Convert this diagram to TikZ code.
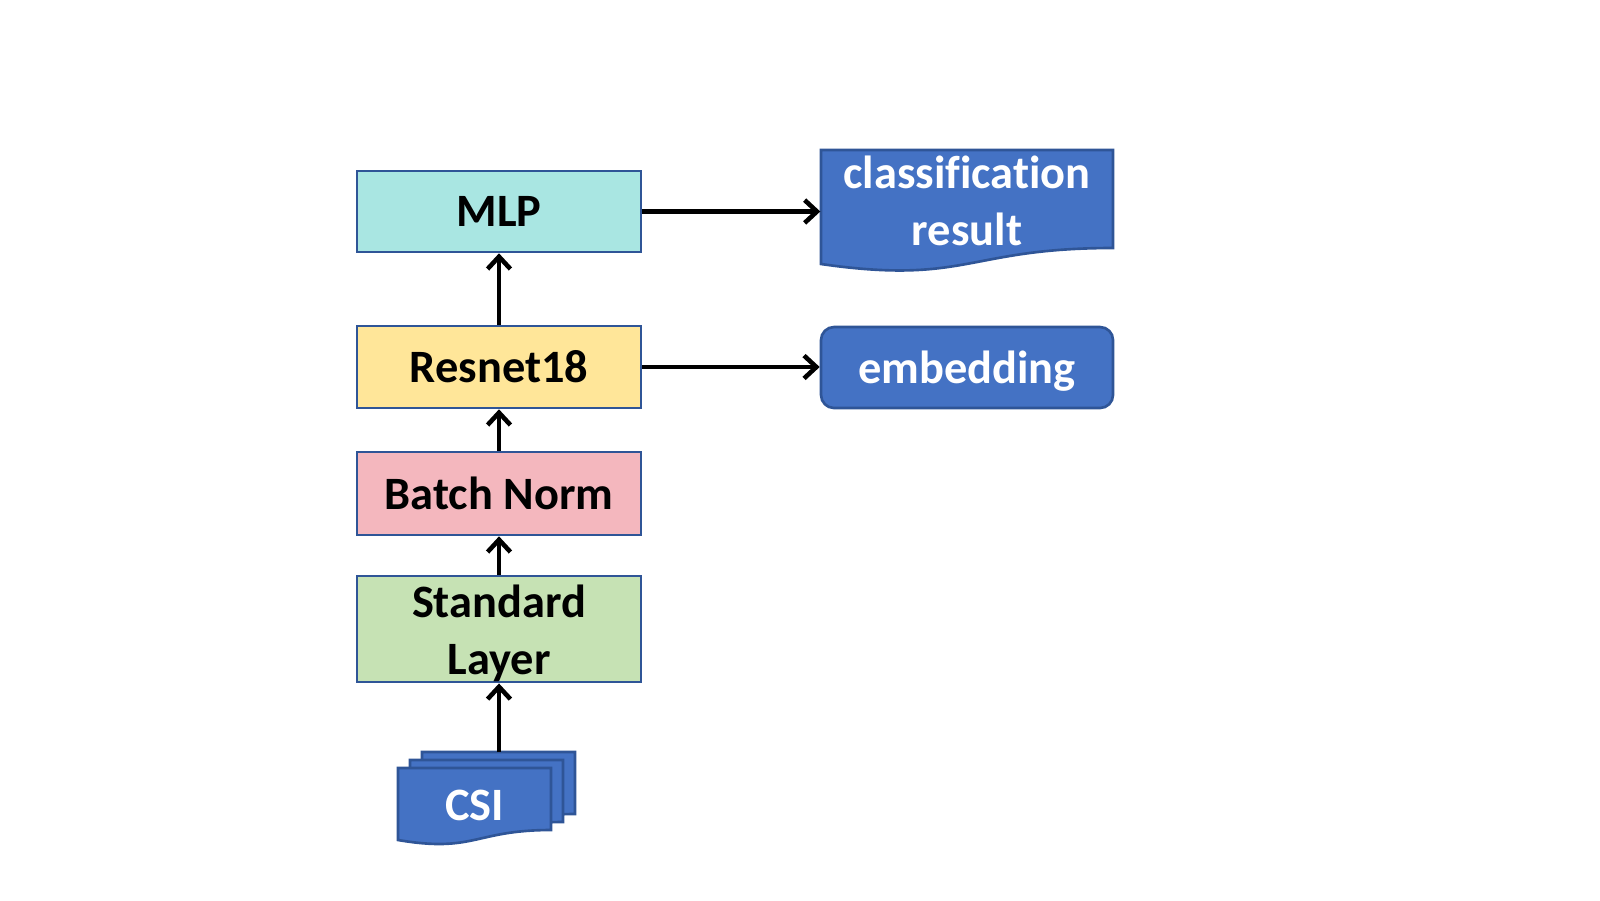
\documentclass[tikz,border=0pt]{standalone}
\usepackage{fontspec}
\setmainfont[Ligatures=NoCommon]{Carlito}
\usetikzlibrary{positioning,arrows.meta}
\definecolor{myTeal}{RGB}{169,230,226}
\definecolor{myYellow}{RGB}{255,230,153}
\definecolor{myPink}{RGB}{244,183,190}
\definecolor{myGreen}{RGB}{198,226,180}
\definecolor{myBlue}{RGB}{68,114,196}
\definecolor{myEdge}{RGB}{47,85,151}

\begin{document}
\begin{tikzpicture}[%
	every node/.style={
		font=\fontsize{13.2}{16.2}\selectfont\bfseries,
		align=center,
		inner sep=0pt,
	},
	layer/.style={draw=myEdge, line width=0.75pt, minimum width=2.84cm},
	sheet/.style={fill=myBlue, draw=myEdge, line width=0.75pt},
	flow/.style={-{Straight Barb[length=3.5pt,width=6.5pt]}, line width=1.3pt},
	]
	\useasboundingbox (0,0) rectangle (16,-9);
	
	% stack of layers
	\node[layer, fill=myTeal, minimum height=0.81cm] (mlp) at (4.99,-2.115) {MLP};
	\node[layer, fill=myYellow, minimum height=0.82cm] (res) at (4.99,-3.67) {Resnet18};
	\node[layer, fill=myPink, minimum height=0.83cm] (bn) at (4.99,-4.935) {Batch Norm};
	\node[layer, fill=myGreen, minimum height=1.02cm] (std) at (4.99,-6.29) {\rule{0pt}{0.42cm}Standard\\Layer};
	
	% input sheets
	\foreach \d in {2,1,0}{
		\filldraw[sheet, shift={(0.12*\d,0.08*\d)}] (3.98,-7.68) -- (5.51,-7.68) -- (5.51,-8.30)
			.. controls (4.745,-8.30) and (4.745,-8.53) .. (3.98,-8.40) -- cycle;
	}
	\node[text=white] (csi) at (4.745,-8.05) {CSI};
	\coordinate (csitop) at (4.99,-7.52);
	
	% outputs
	\filldraw[sheet] (8.21,-1.50) -- (11.13,-1.50) -- (11.13,-2.48)
		.. controls (9.67,-2.48) and (9.67,-2.85) .. (8.21,-2.64) -- cycle;
	\node[text=white, minimum width=2.92cm, minimum height=0.98cm] (cls) at (9.67,-2.01) {classification\\result};
	\node[sheet, text=white, text depth=0pt, rounded corners=0.13cm, minimum width=2.92cm, minimum height=0.81cm] (emb) at (9.67,-3.675) {embedding};
	
	% arrows
	\draw[flow] (csitop) -- (std.south);
	\draw[flow] (std) -- (bn);
	\draw[flow] (bn) -- (res);
	\draw[flow] (res) -- (mlp);
	\draw[flow] (mlp.east) -- (mlp.east -| cls.west);
	\draw[flow] (res.east) -- (res.east -| emb.west);
\end{tikzpicture}
\end{document}
